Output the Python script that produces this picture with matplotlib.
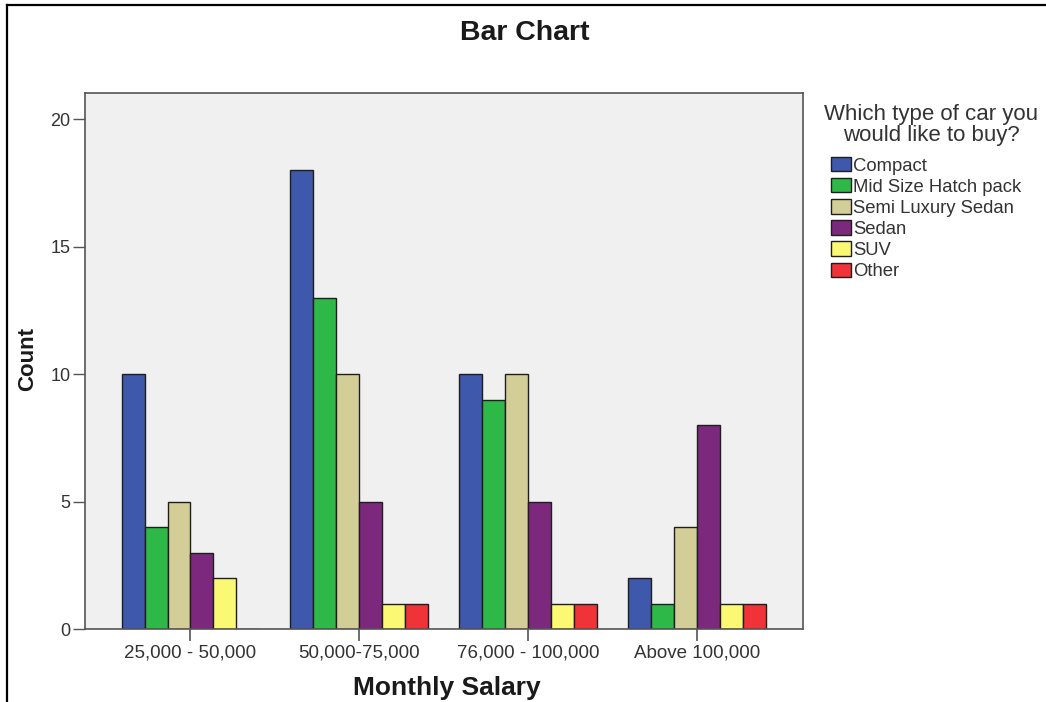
import numpy as np
import matplotlib
matplotlib.use("Agg")
import matplotlib.pyplot as plt
from matplotlib.lines import Line2D

plt.rcParams['font.family'] = ['Liberation Sans', 'DejaVu Sans']

# Survey counts: preferred car type by monthly salary band
salary_bands = ["25,000 - 50,000", "50,000-75,000", "76,000 - 100,000", "Above 100,000"]
car_types = ["Compact", "Mid Size Hatch pack", "Semi Luxury Sedan", "Sedan", "SUV", "Other"]
compact = [10, 18, 10, 2]
mid_size_hatch = [4, 13, 9, 1]
semi_luxury_sedan = [5, 10, 10, 4]
sedan = [3, 5, 5, 8]
suv = [2, 1, 1, 1]
other = [0, 1, 1, 1]
y_ticks = [0, 5, 10, 15, 20]

series = [compact, mid_size_hatch, semi_luxury_sedan, sedan, suv, other]
colors = ["#3E58AC", "#2EB848", "#D3CE97", "#7C287D", "#FBF873", "#EF3338"]

fig = plt.figure(figsize=(10.46, 7.02), dpi=100)
fig.patch.set_facecolor("white")

ax = fig.add_axes([85 / 1046, 1 - 629 / 702, 718 / 1046, 536 / 702])
ax.set_facecolor("#F0F0F0")

x = np.arange(len(salary_bands))
width = 0.136
n = len(series)
for i, (vals, col, name) in enumerate(zip(series, colors, car_types)):
    offs = (i - (n - 1) / 2) * width
    ax.bar(x + offs, vals, width=width, color=col, edgecolor="#1E1E1E",
           linewidth=1.0, label=name, zorder=2)

ax.set_xlim(-0.625, 3.63)
ax.set_ylim(0, 21.02)
ax.set_xticks(x)
ax.set_xticklabels(salary_bands)
ax.set_yticks(y_ticks)
ax.set_yticklabels([str(v) for v in y_ticks])

for side in ["left", "right", "top", "bottom"]:
    ax.spines[side].set_color("#555555")
    ax.spines[side].set_linewidth(1.2)

ax.tick_params(axis="y", direction="out", length=9, width=1.0, pad=1.5,
               colors="#555555", labelcolor="#333333", labelsize=13)
ax.tick_params(axis="x", direction="out", length=8.5, width=1.2, pad=2.5,
               colors="#555555", labelcolor="#333333", labelsize=13.5)

ax.set_xlabel("Monthly Salary", fontsize=19, fontweight="bold",
              color="#1A1A1A", va="center", ha="center")
ax.xaxis.set_label_coords((447 - 85) / 718, (629 - 688) / 536)
ax.set_ylabel("Count", fontsize=16, fontweight="bold",
              color="#1A1A1A", va="center", ha="center")
ax.yaxis.set_label_coords((28 - 85) / 718, (629 - 359) / 536)

fig.text(525 / 1046, 1 - 33 / 702, "Bar Chart", fontsize=20.5,
         fontweight="bold", color="#1A1A1A", ha="center", va="center")

# legend heading
fig.text(931 / 1046, 1 - 104 / 702, "Which type of car you\nwould like to buy?",
         fontsize=16, color="#333333", ha="center", va="top",
         multialignment="center", linespacing=1.0)

leg = ax.legend(
    loc="upper left",
    bbox_to_anchor=(831 / 1046, 1 - 157 / 702),
    bbox_transform=fig.transFigure,
    frameon=False,
    fontsize=13.3,
    handlelength=1.1,
    handleheight=0.82,
    handletextpad=0.1,
    labelspacing=0.19,
    borderpad=0.0,
    borderaxespad=0.0,
)
for t in leg.get_texts():
    t.set_color("#333333")
for h in leg.legend_handles:
    h.set_linewidth(1.0)

# outer frame (left and top edges)
fig.add_artist(Line2D([7 / 1046, 7 / 1046], [0, 1 - 5 / 702],
                      transform=fig.transFigure, color="black", linewidth=1.6))
fig.add_artist(Line2D([7 / 1046, 1.0], [1 - 5 / 702, 1 - 5 / 702],
                      transform=fig.transFigure, color="black", linewidth=1.6))

fig.savefig("out.png", dpi=100, facecolor=fig.get_facecolor())
